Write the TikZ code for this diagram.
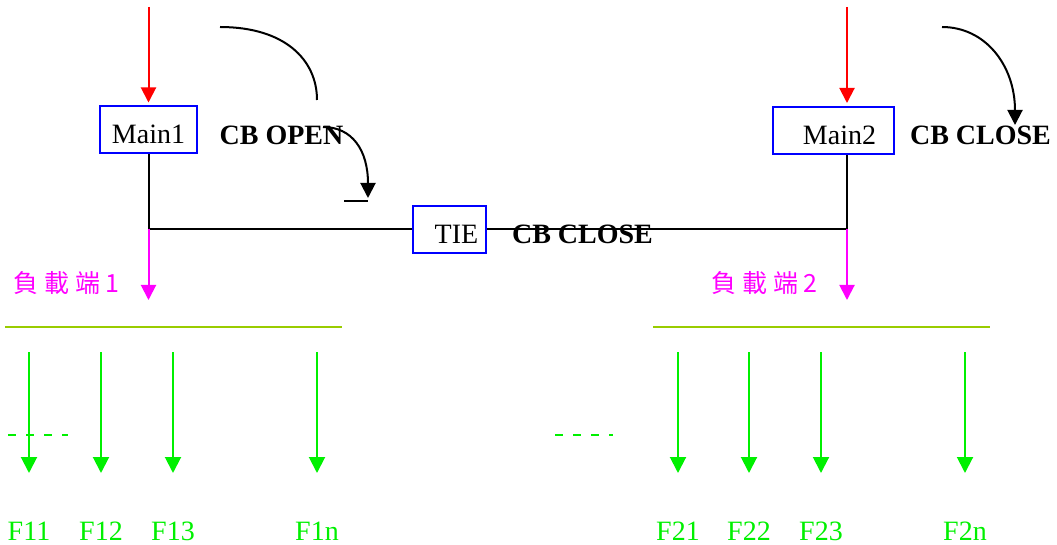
\documentclass[tikz,border=0pt]{standalone}
\usepackage{fontspec}
\setmainfont{Liberation Serif}
\newfontfamily\cjk{Noto Sans CJK TC}
\usetikzlibrary{arrows.meta}
\definecolor{feedgreen}{RGB}{0,240,0}
\definecolor{busgreen}{RGB}{153,204,0}
\definecolor{loadpink}{RGB}{255,0,255}

\begin{document}
\begin{tikzpicture}[x=1pt, y=-1pt, line width=2pt,
  every node/.style = {font=\fontsize{28}{34}\selectfont, inner sep=0pt},
  brk/.style = {draw=blue, rectangle, minimum height=47pt, text height=28pt, text depth=0pt},
  cb/.style = {font=\fontsize{28}{34}\selectfont\bfseries, anchor=base},
  load/.style = {font=\cjk\fontsize{25}{30}\selectfont, text=loadpink, anchor=base west},
  tip/.style = {-{Triangle[length=15pt,width=15pt]}},
  feed/.style = {-{Triangle[length=16pt,width=16pt]}, draw=feedgreen}]
  \useasboundingbox (0,0) rectangle (1057,545);

  \node[brk, minimum width=97pt] (main1) at (148.5,130) {Main1};
  \node[brk, minimum width=121pt] (main2) at (833.5,130.5) {\hspace*{12pt}Main2};
  \node[brk, minimum width=73pt] (tie) at (449.5,229.5) {\hspace*{14pt}TIE};

  \node[cb] (open1) at (281.5,145) {CB OPEN};
  \node[cb] (close2) at (980.5,145) {CB CLOSE};
  \node[cb] (closetie) at (582.5,244) {CB CLOSE};

  \coordinate (in1) at (148.5,7);
  \coordinate (in2) at (847,7);
  \coordinate (j1) at (148.5,229);
  \coordinate (j2) at (847,229);
  \coordinate (ld1) at (148.5,300);
  \coordinate (ld2) at (847,300);

  \draw[tip, red, shorten >=3pt] (in1) -- (main1.north);
  \draw[tip, red, shorten >=3pt] (in2) -- (in2 |- main2.north);
  \draw (main1.south) |- (tie.west);
  \draw (tie.east) -| (j2) -- (j2 |- main2.south);
  \draw[tip, loadpink] (j1) -- (ld1);
  \draw[tip, loadpink] (j2) -- (ld2);

  \draw (220,27) .. controls (285,27) and (317,60) .. (317,100);
  \draw[tip] (323,127) .. controls (352,127) and (368,150) .. (368,198);
  \draw (344,201) -- (368,201);
  \draw[tip] (942,27) .. controls (985,27) and (1015,65) .. (1015,125);

  \node[load] (load1) at (12,292) {負\hspace{6pt}載\hspace{6pt}端 1};
  \node[load] (load2) at (710,292) {負\hspace{6pt}載\hspace{6pt}端 2};

  \draw[busgreen, line width=1.5pt] (5,327) -- (342,327);
  \draw[busgreen, line width=1.5pt] (653,327) -- (990,327);

  \foreach \x/\n in {29/11, 101/12, 173/13, 317/1n, 678/21, 749/22, 821/23, 965/2n} {
    \coordinate (t\n) at (\x,352);
    \coordinate (b\n) at (\x,473);
    \node[anchor=base, text=feedgreen] (F\n) at (\x,540) {F\n};
    \draw[feed] (t\n) -- (b\n);
  }
  \draw[feedgreen, dash pattern=on 8pt off 10pt] (8,435) -- (68,435);
  \draw[feedgreen, dash pattern=on 8pt off 10pt] (555,435) -- (613,435);
\end{tikzpicture}
\end{document}
